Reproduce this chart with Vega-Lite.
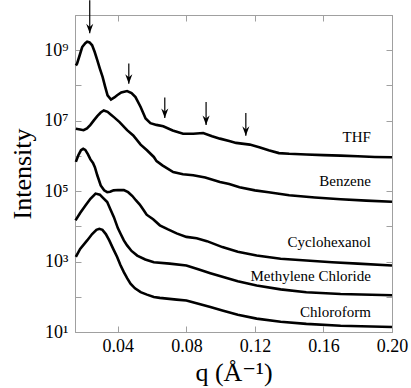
{
  "$schema": "https://vega.github.io/schema/vega-lite/v6.json",
  "width": 317,
  "height": 317,
  "autosize": {"type": "none"},
  "padding": {"left": 75, "top": 15, "right": 19, "bottom": 56},
  "background": "white",
  "config": {
    "view": {"stroke": "#a0a0a0"},
    "font": "Liberation Serif, Times New Roman, DejaVu Serif, serif"
  },
  "datasets": {
    "curves": [
      {"s": "THF", "q": 0.0155, "I": 3.7e8}, {"s": "THF", "q": 0.0162, "I": 4.17e8}, {"s": "THF", "q": 0.018, "I": 7.94e8},
      {"s": "THF", "q": 0.0192, "I": 1.23e9}, {"s": "THF", "q": 0.021, "I": 1.585e9}, {"s": "THF", "q": 0.0221, "I": 1.74e9},
      {"s": "THF", "q": 0.0235, "I": 1.66e9}, {"s": "THF", "q": 0.025, "I": 1.38e9}, {"s": "THF", "q": 0.0265, "I": 8.91e8},
      {"s": "THF", "q": 0.028, "I": 5.25e8}, {"s": "THF", "q": 0.0295, "I": 3.02e8}, {"s": "THF", "q": 0.0311, "I": 1.74e8},
      {"s": "THF", "q": 0.0325, "I": 9.55e7}, {"s": "THF", "q": 0.034, "I": 5.25e7}, {"s": "THF", "q": 0.036, "I": 3.98e7},
      {"s": "THF", "q": 0.038, "I": 4.57e7}, {"s": "THF", "q": 0.0396, "I": 5.25e7}, {"s": "THF", "q": 0.042, "I": 6.31e7},
      {"s": "THF", "q": 0.0454, "I": 6.92e7}, {"s": "THF", "q": 0.048, "I": 6.03e7}, {"s": "THF", "q": 0.0503, "I": 4.68e7},
      {"s": "THF", "q": 0.0533, "I": 2.45e7}, {"s": "THF", "q": 0.0562, "I": 1.15e7}, {"s": "THF", "q": 0.059, "I": 8.51e6},
      {"s": "THF", "q": 0.0625, "I": 7.59e6}, {"s": "THF", "q": 0.0665, "I": 6.92e6}, {"s": "THF", "q": 0.072, "I": 5.25e6},
      {"s": "THF", "q": 0.0781, "I": 4.27e6}, {"s": "THF", "q": 0.084, "I": 4.27e6}, {"s": "THF", "q": 0.0898, "I": 4.47e6},
      {"s": "THF", "q": 0.095, "I": 3.63e6}, {"s": "THF", "q": 0.0996, "I": 3.09e6}, {"s": "THF", "q": 0.105, "I": 2.63e6},
      {"s": "THF", "q": 0.109, "I": 2.34e6}, {"s": "THF", "q": 0.117, "I": 2.09e6}, {"s": "THF", "q": 0.123, "I": 1.74e6},
      {"s": "THF", "q": 0.128, "I": 1.445e6}, {"s": "THF", "q": 0.134, "I": 1.2e6}, {"s": "THF", "q": 0.14, "I": 1.15e6},
      {"s": "THF", "q": 0.15, "I": 1.1e6}, {"s": "THF", "q": 0.16, "I": 1.05e6}, {"s": "THF", "q": 0.17, "I": 1.02e6},
      {"s": "THF", "q": 0.18, "I": 9.77e5}, {"s": "THF", "q": 0.19, "I": 9.33e5}, {"s": "THF", "q": 0.2, "I": 9.12e5},

      {"s": "Benzene", "q": 0.0155, "I": 5.89e6}, {"s": "Benzene", "q": 0.018, "I": 5.62e6}, {"s": "Benzene", "q": 0.02, "I": 5.37e6},
      {"s": "Benzene", "q": 0.022, "I": 6.03e6}, {"s": "Benzene", "q": 0.024, "I": 7.59e6}, {"s": "Benzene", "q": 0.026, "I": 1.02e7},
      {"s": "Benzene", "q": 0.028, "I": 1.35e7}, {"s": "Benzene", "q": 0.03, "I": 1.7e7}, {"s": "Benzene", "q": 0.0318, "I": 1.95e7},
      {"s": "Benzene", "q": 0.034, "I": 1.78e7}, {"s": "Benzene", "q": 0.036, "I": 1.48e7}, {"s": "Benzene", "q": 0.0377, "I": 1.26e7},
      {"s": "Benzene", "q": 0.041, "I": 9.12e6}, {"s": "Benzene", "q": 0.0454, "I": 5.37e6}, {"s": "Benzene", "q": 0.049, "I": 3.8e6},
      {"s": "Benzene", "q": 0.0533, "I": 2.09e6}, {"s": "Benzene", "q": 0.057, "I": 1.445e6}, {"s": "Benzene", "q": 0.061, "I": 9.33e5},
      {"s": "Benzene", "q": 0.0626, "I": 7.08e5}, {"s": "Benzene", "q": 0.066, "I": 5.37e5}, {"s": "Benzene", "q": 0.0723, "I": 3.47e5},
      {"s": "Benzene", "q": 0.078, "I": 3.02e5}, {"s": "Benzene", "q": 0.084, "I": 2.82e5}, {"s": "Benzene", "q": 0.091, "I": 2.45e5},
      {"s": "Benzene", "q": 0.0996, "I": 1.82e5}, {"s": "Benzene", "q": 0.105, "I": 1.585e5}, {"s": "Benzene", "q": 0.111, "I": 1.29e5},
      {"s": "Benzene", "q": 0.12, "I": 1.05e5}, {"s": "Benzene", "q": 0.128, "I": 9.33e4}, {"s": "Benzene", "q": 0.14, "I": 7.59e4},
      {"s": "Benzene", "q": 0.155, "I": 6.61e4}, {"s": "Benzene", "q": 0.17, "I": 5.89e4}, {"s": "Benzene", "q": 0.185, "I": 5.37e4},
      {"s": "Benzene", "q": 0.2, "I": 5.01e4},

      {"s": "Cyclohexanol", "q": 0.0155, "I": 6.76e5}, {"s": "Cyclohexanol", "q": 0.017, "I": 1.05e6}, {"s": "Cyclohexanol", "q": 0.0185, "I": 1.445e6},
      {"s": "Cyclohexanol", "q": 0.0198, "I": 1.585e6}, {"s": "Cyclohexanol", "q": 0.021, "I": 1.48e6}, {"s": "Cyclohexanol", "q": 0.0225, "I": 1.12e6},
      {"s": "Cyclohexanol", "q": 0.024, "I": 7.94e5}, {"s": "Cyclohexanol", "q": 0.0255, "I": 6.31e5}, {"s": "Cyclohexanol", "q": 0.0266, "I": 4.79e5},
      {"s": "Cyclohexanol", "q": 0.028, "I": 2.82e5}, {"s": "Cyclohexanol", "q": 0.029, "I": 2.04e5}, {"s": "Cyclohexanol", "q": 0.03, "I": 1.445e5},
      {"s": "Cyclohexanol", "q": 0.032, "I": 1.05e5}, {"s": "Cyclohexanol", "q": 0.0338, "I": 9.33e4}, {"s": "Cyclohexanol", "q": 0.0355, "I": 9.55e4},
      {"s": "Cyclohexanol", "q": 0.0375, "I": 1.05e5}, {"s": "Cyclohexanol", "q": 0.04, "I": 1.07e5}, {"s": "Cyclohexanol", "q": 0.0435, "I": 1.07e5},
      {"s": "Cyclohexanol", "q": 0.046, "I": 9.33e4}, {"s": "Cyclohexanol", "q": 0.0485, "I": 7.24e4}, {"s": "Cyclohexanol", "q": 0.0505, "I": 5.5e4},
      {"s": "Cyclohexanol", "q": 0.0528, "I": 4.17e4}, {"s": "Cyclohexanol", "q": 0.0552, "I": 2.82e4}, {"s": "Cyclohexanol", "q": 0.0568, "I": 2.14e4},
      {"s": "Cyclohexanol", "q": 0.0606, "I": 1.585e4}, {"s": "Cyclohexanol", "q": 0.0645, "I": 1.07e4}, {"s": "Cyclohexanol", "q": 0.069, "I": 8.32e3},
      {"s": "Cyclohexanol", "q": 0.0743, "I": 6.31e3}, {"s": "Cyclohexanol", "q": 0.08, "I": 5.01e3}, {"s": "Cyclohexanol", "q": 0.086, "I": 4.57e3},
      {"s": "Cyclohexanol", "q": 0.092, "I": 3.8e3}, {"s": "Cyclohexanol", "q": 0.101, "I": 2.57e3}, {"s": "Cyclohexanol", "q": 0.11, "I": 1.905e3},
      {"s": "Cyclohexanol", "q": 0.121, "I": 1.48e3}, {"s": "Cyclohexanol", "q": 0.135, "I": 1.2e3}, {"s": "Cyclohexanol", "q": 0.15, "I": 1.07e3},
      {"s": "Cyclohexanol", "q": 0.165, "I": 955}, {"s": "Cyclohexanol", "q": 0.18, "I": 871}, {"s": "Cyclohexanol", "q": 0.2, "I": 776},

      {"s": "Methylene Chloride", "q": 0.0153, "I": 1.48e4}, {"s": "Methylene Chloride", "q": 0.018, "I": 2.4e4}, {"s": "Methylene Chloride", "q": 0.0211, "I": 3.89e4},
      {"s": "Methylene Chloride", "q": 0.024, "I": 6.03e4}, {"s": "Methylene Chloride", "q": 0.027, "I": 8.51e4}, {"s": "Methylene Chloride", "q": 0.0295, "I": 7.94e4},
      {"s": "Methylene Chloride", "q": 0.0315, "I": 6.31e4}, {"s": "Methylene Chloride", "q": 0.0338, "I": 4.9e4}, {"s": "Methylene Chloride", "q": 0.0357, "I": 3.02e4},
      {"s": "Methylene Chloride", "q": 0.0377, "I": 1.82e4}, {"s": "Methylene Chloride", "q": 0.04, "I": 8.91e3}, {"s": "Methylene Chloride", "q": 0.0416, "I": 6.17e3},
      {"s": "Methylene Chloride", "q": 0.0435, "I": 3.98e3}, {"s": "Methylene Chloride", "q": 0.0454, "I": 2.88e3}, {"s": "Methylene Chloride", "q": 0.048, "I": 2.0e3},
      {"s": "Methylene Chloride", "q": 0.0513, "I": 1.48e3}, {"s": "Methylene Chloride", "q": 0.056, "I": 1.15e3}, {"s": "Methylene Chloride", "q": 0.061, "I": 955},
      {"s": "Methylene Chloride", "q": 0.0703, "I": 871}, {"s": "Methylene Chloride", "q": 0.08, "I": 776}, {"s": "Methylene Chloride", "q": 0.0869, "I": 603},
      {"s": "Methylene Chloride", "q": 0.094, "I": 468}, {"s": "Methylene Chloride", "q": 0.1015, "I": 363}, {"s": "Methylene Chloride", "q": 0.11, "I": 275},
      {"s": "Methylene Chloride", "q": 0.121, "I": 209}, {"s": "Methylene Chloride", "q": 0.135, "I": 162}, {"s": "Methylene Chloride", "q": 0.15, "I": 135},
      {"s": "Methylene Chloride", "q": 0.17, "I": 120}, {"s": "Methylene Chloride", "q": 0.2, "I": 110},

      {"s": "Chloroform", "q": 0.0155, "I": 1.35e3}, {"s": "Chloroform", "q": 0.018, "I": 2.29e3}, {"s": "Chloroform", "q": 0.0221, "I": 3.98e3},
      {"s": "Chloroform", "q": 0.025, "I": 6.03e3}, {"s": "Chloroform", "q": 0.0275, "I": 7.94e3}, {"s": "Chloroform", "q": 0.0292, "I": 8.51e3},
      {"s": "Chloroform", "q": 0.031, "I": 7.94e3}, {"s": "Chloroform", "q": 0.033, "I": 6.03e3}, {"s": "Chloroform", "q": 0.035, "I": 3.98e3},
      {"s": "Chloroform", "q": 0.0373, "I": 2.29e3}, {"s": "Chloroform", "q": 0.0396, "I": 1.35e3}, {"s": "Chloroform", "q": 0.0415, "I": 794},
      {"s": "Chloroform", "q": 0.0435, "I": 501}, {"s": "Chloroform", "q": 0.0455, "I": 331}, {"s": "Chloroform", "q": 0.0474, "I": 234},
      {"s": "Chloroform", "q": 0.05, "I": 174}, {"s": "Chloroform", "q": 0.0533, "I": 135}, {"s": "Chloroform", "q": 0.057, "I": 115},
      {"s": "Chloroform", "q": 0.061, "I": 98}, {"s": "Chloroform", "q": 0.0645, "I": 93}, {"s": "Chloroform", "q": 0.0743, "I": 83},
      {"s": "Chloroform", "q": 0.08, "I": 78}, {"s": "Chloroform", "q": 0.087, "I": 63}, {"s": "Chloroform", "q": 0.094, "I": 51},
      {"s": "Chloroform", "q": 0.101, "I": 41}, {"s": "Chloroform", "q": 0.11, "I": 31}, {"s": "Chloroform", "q": 0.121, "I": 24},
      {"s": "Chloroform", "q": 0.135, "I": 19.5}, {"s": "Chloroform", "q": 0.15, "I": 17}, {"s": "Chloroform", "q": 0.17, "I": 15.1},
      {"s": "Chloroform", "q": 0.2, "I": 13.8}
    ],
    "arrows": [
      {"q": 0.0236, "top": 2.63e10, "tip": 3.02e9},
      {"q": 0.0464, "top": 4.17e8, "tip": 1.12e8},
      {"q": 0.0674, "top": 4.57e7, "tip": 1.2e7},
      {"q": 0.0915, "top": 3.39e7, "tip": 7.59e6},
      {"q": 0.1147, "top": 1.66e7, "tip": 3.72e6}
    ],
    "labels": [
      {"q": 0.1877, "I": 3.39e6, "label": "THF"},
      {"q": 0.1877, "I": 1.9e5, "label": "Benzene"},
      {"q": 0.1877, "I": 3.55e3, "label": "Cyclohexanol"},
      {"q": 0.1877, "I": 380, "label": "Methylene Chloride"},
      {"q": 0.1877, "I": 36.3, "label": "Chloroform"}
    ]
  },
  "layer": [
    {
      "data": {"name": "curves"},
      "mark": {"type": "line", "color": "black", "strokeWidth": 2.6},
      "encoding": {
        "x": {
          "field": "q", "type": "quantitative",
          "scale": {"domain": [0.015, 0.2], "nice": false, "zero": false},
          "axis": {
            "orient": "bottom", "values": [0.04, 0.08, 0.12, 0.16, 0.2], "format": ".2f",
            "grid": false, "tickSize": -6, "tickColor": "#a0a0a0", "domainColor": "#a0a0a0",
            "labelFont": "Liberation Serif, Times New Roman, DejaVu Serif, serif", "labelFontSize": 18, "labelColor": "black",
            "labelPadding": 11, "labelFlush": false, "labelOverlap": false,
            "title": "q (Å⁻¹)", "titleFont": "Liberation Serif, Times New Roman, DejaVu Serif, serif", "titleFontSize": 26,
            "titleFontWeight": "normal", "titleColor": "black", "titlePadding": 4
          }
        },
        "y": {
          "field": "I", "type": "quantitative",
          "scale": {"type": "log", "domain": [10, 1e10], "nice": false},
          "axis": {
            "orient": "left", "values": [10, 100, 1000, 10000, 100000, 1000000, 10000000, 100000000, 1000000000],
            "labelExpr": "['','10¹','','10³','','10⁵','','10⁷','','10⁹',''][round(log(datum.value)/LN10)]",
            "grid": false, "tickSize": -6, "tickColor": "#a0a0a0", "domainColor": "#a0a0a0",
            "labelFont": "Liberation Serif, Times New Roman, DejaVu Serif, serif", "labelFontSize": 18, "labelColor": "black",
            "labelPadding": 13, "labelOverlap": false, "labelFlush": false,
            "title": "Intensity", "titleFont": "Liberation Serif, Times New Roman, DejaVu Serif, serif", "titleFontSize": 26,
            "titleFontWeight": "normal", "titleColor": "black", "titlePadding": 8
          }
        },
        "detail": {"field": "s"}
      }
    },
    {
      "data": {"name": "arrows"},
      "mark": {"type": "rule", "color": "black", "strokeWidth": 1.2},
      "encoding": {
        "x": {
          "field": "q", "type": "quantitative",
          "axis": {
            "orient": "top", "values": [0.04, 0.08, 0.12, 0.16, 0.2], "labels": false, "title": null,
            "grid": false, "tickSize": -6, "tickColor": "#a0a0a0", "domainColor": "#a0a0a0"
          }
        },
        "y": {
          "field": "top", "type": "quantitative",
          "axis": {
            "orient": "right", "values": [10, 100, 1000, 10000, 100000, 1000000, 10000000, 100000000, 1000000000],
            "labels": false, "title": null,
            "grid": false, "tickSize": -6, "tickColor": "#a0a0a0", "domainColor": "#a0a0a0"
          }
        },
        "y2": {"field": "tip"}
      }
    },
    {
      "data": {"name": "arrows"},
      "mark": {"type": "point", "shape": "M0,0L-0.75,-2L0,-1.35L0.75,-2Z", "filled": true, "color": "black", "size": 90, "opacity": 1},
      "encoding": {
        "x": {"field": "q", "type": "quantitative", "axis": null},
        "y": {"field": "tip", "type": "quantitative", "axis": null}
      }
    },
    {
      "data": {"name": "labels"},
      "mark": {"type": "text", "font": "Liberation Serif, Times New Roman, DejaVu Serif, serif", "fontSize": 15, "align": "right", "baseline": "middle", "color": "black"},
      "encoding": {
        "x": {"field": "q", "type": "quantitative", "axis": null},
        "y": {"field": "I", "type": "quantitative", "axis": null},
        "text": {"field": "label"}
      }
    }
  ],
  "resolve": {"axis": {"x": "independent", "y": "independent"}}
}
